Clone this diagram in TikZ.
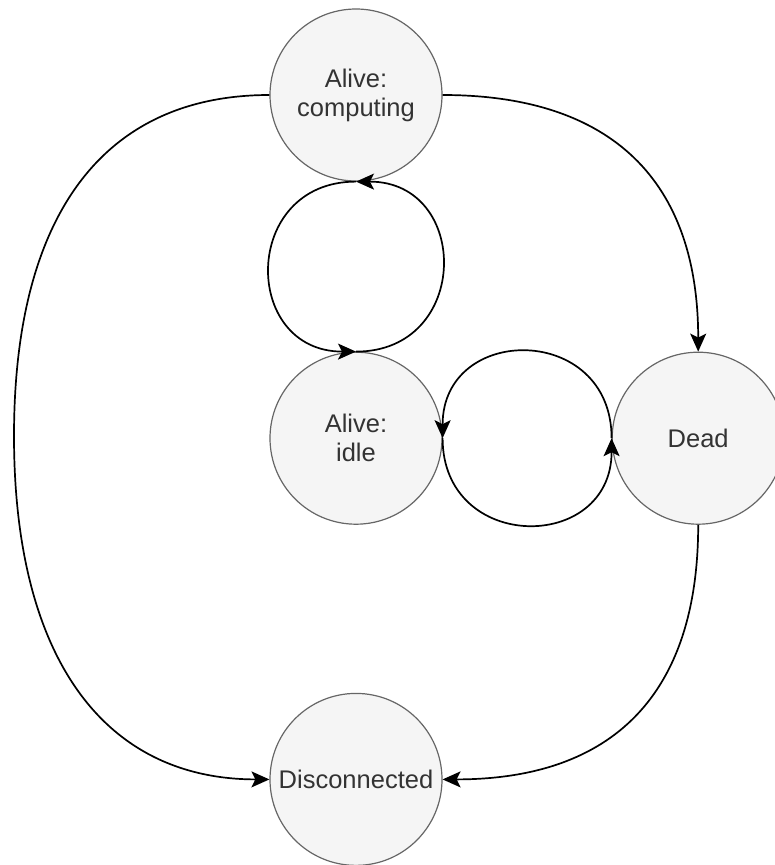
\documentclass[tikz,border=0pt]{standalone}
\usepackage{fontspec}
\setmainfont{Liberation Sans}
\usetikzlibrary{positioning,arrows.meta}
\definecolor{stateFill}{HTML}{F5F5F5}
\definecolor{stateLine}{HTML}{666666}
\definecolor{stateText}{HTML}{333333}

\begin{document}
\begin{tikzpicture}[x=1pt, y=-1pt, node distance=170pt, line width=1.7pt,
        state/.style={circle, draw=stateLine, line width=1.2pt, fill=stateFill, text=stateText, minimum size=172pt, inner sep=0pt, align=center, font=\fontsize{25.5}{29}\selectfont},
        trans/.style={-{Stealth[length=18pt,width=16pt,inset=4pt]}}]
        \useasboundingbox (0,0) rectangle (774,865);
        \node[state] (Comp) at (356,95) {Alive:\\ computing};
        \node[state] (Idle) [below=of Comp] {Alive:\\ idle};
        \node[state] (Disc) [below=168pt of Idle] {Disconnected};
        \node[state] (Dead) [right=169pt of Idle] {Dead};
        \coordinate (FarLeft) at (14,436);

        \draw[trans] (Comp.south) .. controls +(-115,0) and +(-115,0) .. (Idle.north);
        \draw[trans] (Idle.north) .. controls +(115,0) and +(115,0) .. (Comp.south);
        \draw[trans] (Dead.west) .. controls +(0,-115) and +(0,-115) .. (Idle.east);
        \draw[trans] (Idle.east) .. controls +(0,115) and +(0,115) .. (Dead.west);
        \draw[trans] (Comp.east) .. controls +(170,0) and +(0,-170) .. (Dead.north);
        \draw[trans] (Dead.south) .. controls +(0,170) and +(170,0) .. (Disc.east);
        \draw[trans] (Comp.west) .. controls +(-166,0) and +(0,-221) .. (FarLeft) .. controls +(0,221) and +(-166,0) .. (Disc.west);
    \end{tikzpicture}
\end{document}
